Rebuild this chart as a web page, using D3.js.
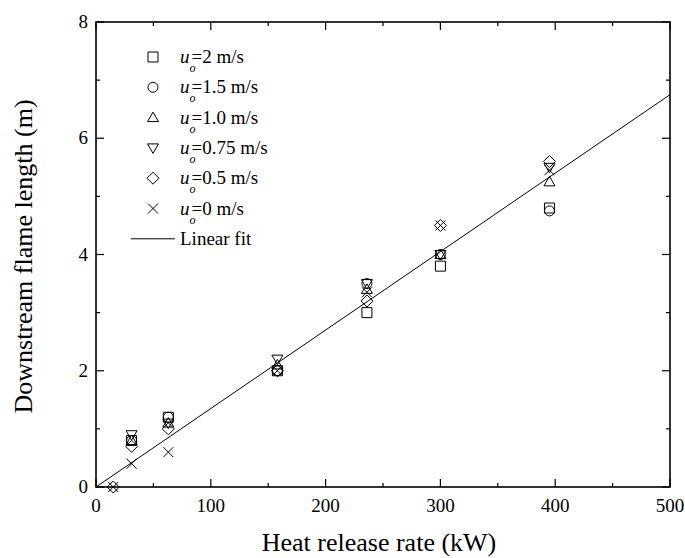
<!DOCTYPE html>
<html>
<head>
<meta charset="utf-8">
<script src="https://cdn.jsdelivr.net/npm/d3@7"></script>
<style>
  body { margin: 0; background: #fff; }
  svg text { font-family: "Liberation Serif", "Times New Roman", serif; fill: #000; }
</style>
</head>
<body>
<div id="chart"></div>
<script>
// heat release rate (kW) for each test group
var hrr = [15, 31, 63, 158, 236, 300, 395]

// downstream flame length (m) per longitudinal velocity, null = not tested
var u2 = [null, 0.8, 1.2, 2.0, 3.0, 3.8, 4.8]
var u15 = [null, 0.8, 1.2, 2.0, 3.5, 4.0, 4.75]
var u10 = [null, 0.8, 1.1, 2.1, 3.4, 4.0, 5.25]
var u075 = [null, 0.9, 1.1, 2.2, 3.5, 4.0, 5.5]
var u05 = [0, 0.7, 1.0, 2.0, 3.2, 4.5, 5.6]
var u0 = [0, 0.4, 0.6, 2.0, 3.35, 4.5, 5.45]

var seriesNames = ["2", "1.5", "1.0", "0.75", "0.5", "0"]
var seriesSymbols = ["square", "circle", "triangle", "triangleDown", "diamond", "cross"]

// linear fit
var fitX = [0, 500]
var fitY = [0, 6.75]

var xTicks = [0, 100, 200, 300, 400, 500]
var yTicks = [0, 2, 4, 6, 8]

var allSeries = [u2, u15, u10, u075, u05, u0]

var svg = d3.select("#chart").append("svg")
	.attr("width", 685)
	.attr("height", 558)

// plot box (window.top is reserved, so p* names)
var pLeft = 96, pRight = 670, pTop = 22, pBottom = 487

var x = d3.scaleLinear().domain([0, 500]).range([pLeft, pRight])
var y = d3.scaleLinear().domain([0, 8]).range([pBottom, pTop])

// marker shapes, s = half size
function markerPath(type, s) {
	if (type == "square") return `M${-s},${-s}H${s}V${s}H${-s}Z`
	if (type == "circle") return `M${-s},0A${s},${s} 0 1,0 ${s},0A${s},${s} 0 1,0 ${-s},0Z`
	if (type == "triangle") return `M0,${-s * 1.1}L${s * 1.1},${s * 0.8}L${-s * 1.1},${s * 0.8}Z`
	if (type == "triangleDown") return `M0,${s * 1.1}L${s * 1.1},${-s * 0.8}L${-s * 1.1},${-s * 0.8}Z`
	if (type == "diamond") return `M0,${-s * 1.2}L${s * 1.2},0L0,${s * 1.2}L${-s * 1.2},0Z`
	if (type == "cross") return `M${-s},${-s}L${s},${s}M${s},${-s}L${-s},${s}`
}

// ticks: inward, bottom + left, mirrored top + right
var g = svg.append("g")
var minorX = d3.range(0, 501, 50)
var minorY = d3.range(0, 8.01, 1)

g.selectAll(".xt").data(minorX).enter().append("line")
	.attr("x1", d => x(d)).attr("x2", d => x(d))
	.attr("y1", pBottom).attr("y2", d => pBottom - (d % 100 == 0 ? 8 : 4))
	.attr("stroke", "#000").attr("stroke-width", 1.2)
g.selectAll(".xtt").data(minorX).enter().append("line")
	.attr("x1", d => x(d)).attr("x2", d => x(d))
	.attr("y1", pTop).attr("y2", d => pTop + (d % 100 == 0 ? 8 : 4))
	.attr("stroke", "#000").attr("stroke-width", 1.2)
g.selectAll(".yt").data(minorY).enter().append("line")
	.attr("y1", d => y(d)).attr("y2", d => y(d))
	.attr("x1", pLeft).attr("x2", d => pLeft + (d % 2 == 0 ? 8 : 4))
	.attr("stroke", "#000").attr("stroke-width", 1.2)
g.selectAll(".ytr").data(minorY).enter().append("line")
	.attr("y1", d => y(d)).attr("y2", d => y(d))
	.attr("x1", pRight).attr("x2", d => pRight - (d % 2 == 0 ? 8 : 4))
	.attr("stroke", "#000").attr("stroke-width", 1.2)

svg.append("rect")
	.attr("x", pLeft).attr("y", pTop)
	.attr("width", pRight - pLeft).attr("height", pBottom - pTop)
	.attr("fill", "none").attr("stroke", "#000").attr("stroke-width", 1.6)

g.selectAll(".xl").data(xTicks).enter().append("text")
	.attr("x", d => x(d)).attr("y", pBottom + 25)
	.attr("text-anchor", "middle")
	.style("font-size", "19px")
	.text(d => d)
g.selectAll(".yl").data(yTicks).enter().append("text")
	.attr("x", pLeft - 8).attr("y", d => y(d) + 6)
	.attr("text-anchor", "end")
	.style("font-size", "19px")
	.text(d => d)

svg.append("text")
	.attr("x", (pLeft + pRight) / 2 - 4).attr("y", 551)
	.attr("text-anchor", "middle")
	.style("font-size", "26px")
	.text("Heat release rate (kW)")
svg.append("text")
	.attr("transform", `translate(32,${(pTop + pBottom) / 2 + 2}) rotate(-90)`)
	.attr("text-anchor", "middle")
	.style("font-size", "26px")
	.text("Downstream flame length (m)")

// fit line
var line = d3.line().x(d => x(d[0])).y(d => y(d[1]))
svg.append("path")
	.attr("d", line(fitX.map((v, i) => [v, fitY[i]])))
	.attr("fill", "none").attr("stroke", "#000").attr("stroke-width", 1)

// points
allSeries.forEach(function(vals, k) {
	var pts = vals.map((v, i) => [hrr[i], v]).filter(p => p[1] != null)
	svg.append("g").selectAll("path")
		.data(pts)
		.enter()
		.append("path")
		.attr("transform", d => `translate(${x(d[0])},${y(d[1])})`)
		.attr("d", markerPath(seriesSymbols[k], 5))
		.attr("fill", "none")
		.attr("stroke", "#000")
		.attr("stroke-width", 1)
})

// legend
var leg = svg.append("g")
var rowY = d => 57 + d * 30.3
seriesNames.forEach(function(n, k) {
	leg.append("path")
		.attr("transform", `translate(153,${rowY(k)})`)
		.attr("d", markerPath(seriesSymbols[k], 5))
		.attr("fill", "none").attr("stroke", "#000").attr("stroke-width", 1)
	var t = leg.append("text")
		.attr("x", 180).attr("y", rowY(k) + 6)
		.style("font-size", "19px")
	t.append("tspan").style("font-style", "italic").text("u")
	t.append("tspan").style("font-style", "italic").style("font-size", "12px")
		.attr("dy", 9).text("o")
	t.append("tspan").attr("dy", -9).attr("dx", -4).text("=" + n + " m/s")
})
leg.append("line")
	.attr("x1", 131).attr("x2", 175)
	.attr("y1", rowY(6)).attr("y2", rowY(6))
	.attr("stroke", "#000").attr("stroke-width", 1)
leg.append("text")
	.attr("x", 180).attr("y", rowY(6) + 6)
	.style("font-size", "19px")
	.text("Linear fit")
</script>
</body>
</html>
